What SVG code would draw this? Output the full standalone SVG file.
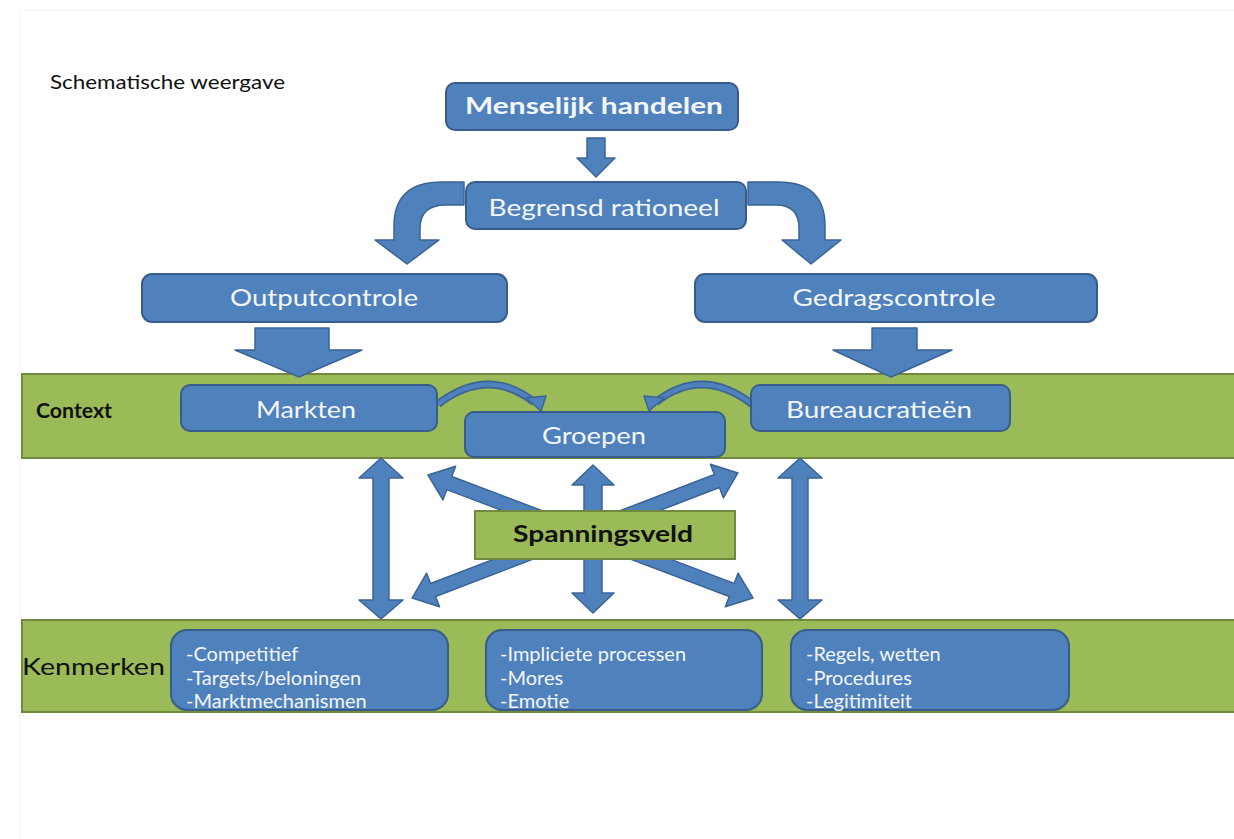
<svg xmlns="http://www.w3.org/2000/svg" width="1234" height="839" viewBox="0 0 1234 839">
<style>
.box{fill:#4f81bd;stroke:#385d8a;stroke-width:2}
.band{fill:#9bbb59;stroke:#71893f;stroke-width:2}
.arr{fill:#4f81bd;stroke:#3b6496;stroke-width:1.5;stroke-linejoin:round}
.wt{font-family:Lato,"Liberation Sans",sans-serif;fill:#f4f6fa;text-anchor:middle}
.bt{font-family:Lato,"Liberation Sans",sans-serif;fill:#111}
.lt{font-family:Lato,"Liberation Sans",sans-serif;fill:#f4f6fa;font-size:20px}
</style>
<rect x="0" y="0" width="1234" height="839" fill="#ffffff"/>
<line x1="20" y1="10" x2="20" y2="839" stroke="#f2f2f2" stroke-width="1"/>
<line x1="20" y1="10" x2="1234" y2="10" stroke="#f4f4f4" stroke-width="1"/>

<text class="bt" x="50" y="89" font-size="19" fill="#000" textLength="235" lengthAdjust="spacingAndGlyphs">Schematische weergave</text>

<g id="bands">
<rect class="band" x="22" y="374" width="1214" height="84"/>
<rect class="band" x="22" y="620" width="1214" height="92"/>
<text class="bt" x="36" y="418" font-size="21" font-weight="bold" textLength="76" lengthAdjust="spacingAndGlyphs">Context</text>
<text class="bt" x="22" y="675" font-size="24" textLength="143" lengthAdjust="spacingAndGlyphs">Kenmerken</text>
</g>

<g id="connectors">
<polygon class="arr" points="587,138 605,138 605,158 615,158 596,177 577,158 587,158"/>
<path class="arr" d="M 464 182 L 442 182 Q 394 182 394 226 L 394 240 L 375 240 L 407 264 L 439 240 L 420 240 L 420 228 Q 420 205 446 205 L 464 205 Z"/>
<path class="arr" d="M 748 182 L 778 182 Q 825 182 825 226 L 825 240 L 841 240 L 811 264 L 782 240 L 799 240 L 799 228 Q 799 205 776 205 L 748 205 Z"/>
<polygon class="arr" points="255,328 329,328 329,350 362,350 299,377 235,350 255,350"/>
<polygon class="arr" points="872,328 917,328 917,350 952,350 891,377 833,350 872,350"/>
<path d="M 438 404 Q 488 366 534 402" fill="none" stroke="#3b6496" stroke-width="8"/>
<path d="M 438 404 Q 488 366 534 402" fill="none" stroke="#4f81bd" stroke-width="4.5"/>
<polygon class="arr" points="526,398 546,396 541,411"/>
<path d="M 752 404 Q 702 366 656 402" fill="none" stroke="#3b6496" stroke-width="8"/>
<path d="M 752 404 Q 702 366 656 402" fill="none" stroke="#4f81bd" stroke-width="4.5"/>
<polygon class="arr" points="664,398 644,396 649,411"/>
<polygon class="arr" points="381,458 403,478 389,478 389,600 403,600 381,619 359,600 373,600 373,478 359,478"/>
<polygon class="arr" points="593,465 614,485 602,485 602,593 614,593 593,613 572,593 584,593 584,485 572,485"/>
<polygon class="arr" points="800,458 822,478 808,478 808,600 822,600 800,619 778,600 792,600 792,478 778,478"/>
<polygon class="arr" transform="translate(590.5 536.5) rotate(20.73)" points="-173.7,0 -151,-18 -151,-7 151,-7 151,-18 173.7,0 151,18 151,7 -151,7 -151,18"/>
<polygon class="arr" transform="translate(575 535.5) rotate(159)" points="-174.5,0 -152,-18 -152,-7 152,-7 152,-18 174.5,0 152,18 152,7 -152,7 -152,18"/>
</g>

<g id="menselijk">
<rect class="box" x="446" y="83" width="292" height="47" rx="9"/>
<text class="wt" x="594" y="114" font-size="22" font-weight="bold" textLength="258" lengthAdjust="spacingAndGlyphs">Menselijk handelen</text>
</g>
<g id="begrensd">
<rect class="box" x="466" y="182" width="280" height="47" rx="9"/>
<text class="wt" x="604" y="216" font-size="24" textLength="231" lengthAdjust="spacingAndGlyphs">Begrensd rationeel</text>
</g>
<g id="outputcontrole">
<rect class="box" x="142" y="274" width="365" height="48" rx="10"/>
<text class="wt" x="324" y="306" font-size="23" textLength="188" lengthAdjust="spacingAndGlyphs">Outputcontrole</text>
</g>
<g id="gedragscontrole">
<rect class="box" x="695" y="274" width="402" height="48" rx="10"/>
<text class="wt" x="894" y="306" font-size="23" textLength="203" lengthAdjust="spacingAndGlyphs">Gedragscontrole</text>
</g>
<g id="markten">
<rect class="box" x="181" y="385" width="256" height="46" rx="9"/>
<text class="wt" x="306" y="418" font-size="23" textLength="100" lengthAdjust="spacingAndGlyphs">Markten</text>
</g>
<g id="groepen">
<rect class="box" x="465" y="412" width="260" height="45" rx="9"/>
<text class="wt" x="594" y="444" font-size="23" textLength="104" lengthAdjust="spacingAndGlyphs">Groepen</text>
</g>
<g id="bureaucratieen">
<rect class="box" x="751" y="385" width="259" height="46" rx="9"/>
<text class="wt" x="879" y="418" font-size="23" textLength="186" lengthAdjust="spacingAndGlyphs">Bureaucratieën</text>
</g>
<g id="spanningsveld">
<rect x="475" y="511" width="260" height="48" fill="#9bbb59" stroke="#71893f" stroke-width="2"/>
<text class="bt" x="603" y="542" font-size="22" font-weight="bold" text-anchor="middle" textLength="180" lengthAdjust="spacingAndGlyphs">Spanningsveld</text>
</g>
<g id="kenmerk-markten">
<rect class="box" x="171" y="630" width="277" height="80" rx="16"/>
<text class="lt" x="186" y="661">-Competitief</text>
<text class="lt" x="186" y="685">-Targets/beloningen</text>
<text class="lt" x="186" y="708">-Marktmechanismen</text>
</g>
<g id="kenmerk-groepen">
<rect class="box" x="486" y="630" width="276" height="80" rx="16"/>
<text class="lt" x="500" y="661">-Impliciete processen</text>
<text class="lt" x="500" y="685">-Mores</text>
<text class="lt" x="500" y="708">-Emotie</text>
</g>
<g id="kenmerk-bureaucratieen">
<rect class="box" x="791" y="630" width="278" height="80" rx="16"/>
<text class="lt" x="806" y="661">-Regels, wetten</text>
<text class="lt" x="806" y="685">-Procedures</text>
<text class="lt" x="806" y="708">-Legitimiteit</text>
</g>
</svg>
